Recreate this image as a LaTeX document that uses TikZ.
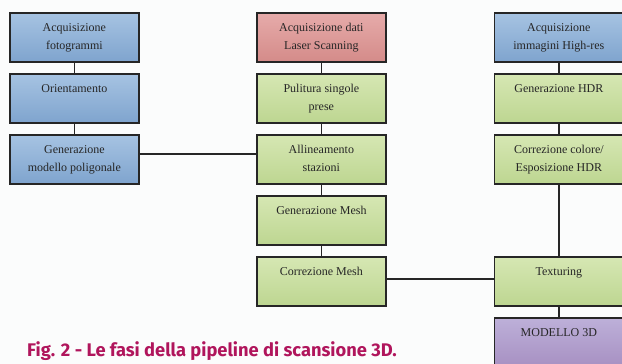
\documentclass[tikz,border=0pt]{standalone}
\usepackage{fontspec}
\setmainfont{Liberation Serif}
\newfontfamily\capfont{Fira Sans}
\definecolor{bgc}{HTML}{FBFCFC}
\definecolor{bluetop}{HTML}{A6C3E2}
\definecolor{bluebot}{HTML}{7FA4CE}
\definecolor{redtop}{HTML}{E6ABAA}
\definecolor{redbot}{HTML}{D48B89}
\definecolor{greentop}{HTML}{D6E7B3}
\definecolor{greenbot}{HTML}{BDD691}
\definecolor{purptop}{HTML}{BDB0D9}
\definecolor{purpbot}{HTML}{A790C2}
\definecolor{capc}{HTML}{B0155C}
\definecolor{linec}{HTML}{262626}
\begin{document}
\begin{tikzpicture}[x=1pt,y=-1pt,
  box/.style={draw=linec, line width=1.8pt, minimum width=129pt, minimum height=49pt, anchor=north west, inner sep=0pt},
  bluebox/.style={box, top color=bluetop, bottom color=bluebot},
  redbox/.style={box, top color=redtop, bottom color=redbot},
  greenbox/.style={box, top color=greentop, bottom color=greenbot},
  purpbox/.style={box, top color=purptop, bottom color=purpbot},
  lbl/.style={anchor=north, inner sep=0pt, align=center, text=black!85, font=\fontsize{12}{18}\selectfont},
  conn/.style={draw=linec, line width=1.4pt}
]
\useasboundingbox (0,0) rectangle (622,364);
\clip (0,0) rectangle (622,364);
\fill[bgc] (0,0) rectangle (622,364);

% left column
\node[bluebox] (l1) at (9,12) {};
\node[bluebox] (l2) at (9,73) {};
\node[bluebox] (l3) at (9,134) {};
% middle
\node[redbox] (m1) at (256,12) {};
\node[greenbox] (m2) at (256,73) {};
\node[greenbox] (m3) at (256,134) {};
\node[greenbox] (m4) at (256,195) {};
\node[greenbox] (m5) at (256,256) {};
% right
\node[bluebox] (r1) at (493.5,12) {};
\node[greenbox] (r2) at (493.5,73) {};
\node[greenbox] (r3) at (493.5,134) {};
\node[greenbox] (r4) at (493.5,256) {};
\node[purpbox] (r5) at (493.5,317) {};

\draw[conn] (l1.south) -- (l2.north);
\draw[conn] (l2.south) -- (l3.north);
\draw[conn] (m1.south) -- (m2.north);
\draw[conn] (m2.south) -- (m3.north);
\draw[conn] (m3.south) -- (m4.north);
\draw[conn] (m4.south) -- (m5.north);
\draw[conn] (r1.south) -- (r2.north);
\draw[conn] (r2.south) -- (r3.north);
\draw[conn] (r3.south) -- (r4.north);
\draw[conn] (r4.south) -- (r5.north);
\draw[conn] ([yshift=5.5pt]l3.east) -- ([yshift=5.5pt]m3.west);
\draw[conn] ([yshift=2.5pt]m5.east) -- ([yshift=2.5pt]r4.west);

% labels
\node[lbl] (tl1) at ([yshift=-11pt]l1.north) {Acquisizione\\fotogrammi};
\node[lbl] (tl2) at ([yshift=-11pt]l2.north) {Orientamento};
\node[lbl] (tl3) at ([yshift=-11pt]l3.north) {Generazione\\modello poligonale};
\node[lbl] (tm1) at ([yshift=-11pt]m1.north) {Acquisizione dati\\Laser Scanning};
\node[lbl] (tm2) at ([yshift=-11pt]m2.north) {Pulitura singole\\prese};
\node[lbl] (tm3) at ([yshift=-11pt]m3.north) {Allineamento\\stazioni};
\node[lbl] (tm4) at ([yshift=-11pt]m4.north) {Generazione Mesh};
\node[lbl] (tm5) at ([yshift=-11pt]m5.north) {Correzione Mesh};
\node[lbl] (tr1) at ([yshift=-11pt]r1.north) {Acquisizione\\immagini High-res};
\node[lbl] (tr2) at ([yshift=-11pt]r2.north) {Generazione HDR};
\node[lbl] (tr3) at ([yshift=-11pt]r3.north) {Correzione colore/\\Esposizione HDR};
\node[lbl] (tr4) at ([yshift=-11pt]r4.north) {Texturing};
\node[lbl] (tr5) at ([yshift=-11pt]r5.north) {MODELLO 3D};

\node[anchor=base west, inner sep=0pt, text=capc, font=\capfont\bfseries\fontsize{18.3}{20}\selectfont] (cap) at (27,356.5) {Fig. 2 - Le fasi della pipeline di scansione 3D.};
\end{tikzpicture}
\end{document}
